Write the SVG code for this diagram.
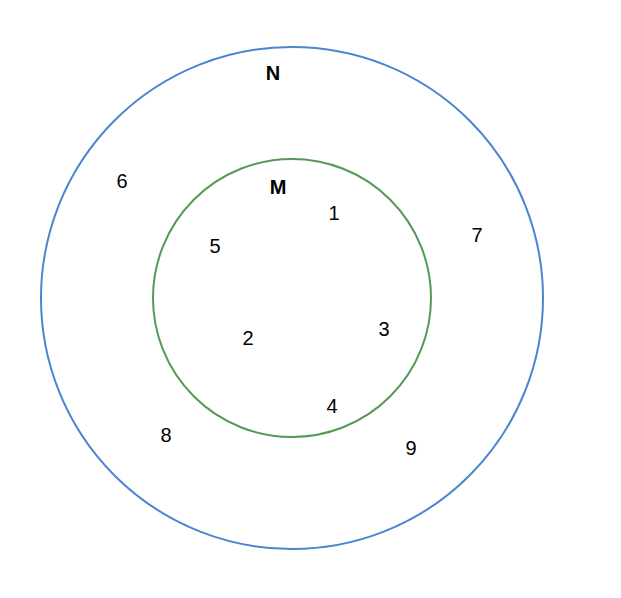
<svg xmlns="http://www.w3.org/2000/svg" width="621" height="598" viewBox="0 0 621 598">
<style>
.c{fill:none;stroke-width:2}
.t{font-family:"Liberation Sans",Arial,sans-serif;font-size:20px;fill:#000;text-anchor:middle}
.b{font-weight:bold}
</style>
<rect width="621" height="598" fill="#fff"/>
<g id="N">
<circle class="c" cx="292" cy="298" r="251" stroke="#4a86cf"/>
<text class="t b" x="273" y="80">N</text>
</g>
<g id="M">
<circle class="c" cx="292" cy="298" r="139" stroke="#559955"/>
<text class="t b" x="278" y="194">M</text>
</g>
<g id="elements">
<text class="t" x="334" y="220">1</text>
<text class="t" x="248" y="345">2</text>
<text class="t" x="384" y="336">3</text>
<text class="t" x="332" y="413">4</text>
<text class="t" x="215" y="253">5</text>
<text class="t" x="122" y="188">6</text>
<text class="t" x="477" y="242">7</text>
<text class="t" x="166" y="442">8</text>
<text class="t" x="411" y="455">9</text>
</g>
<g id="connectors"></g>
</svg>
